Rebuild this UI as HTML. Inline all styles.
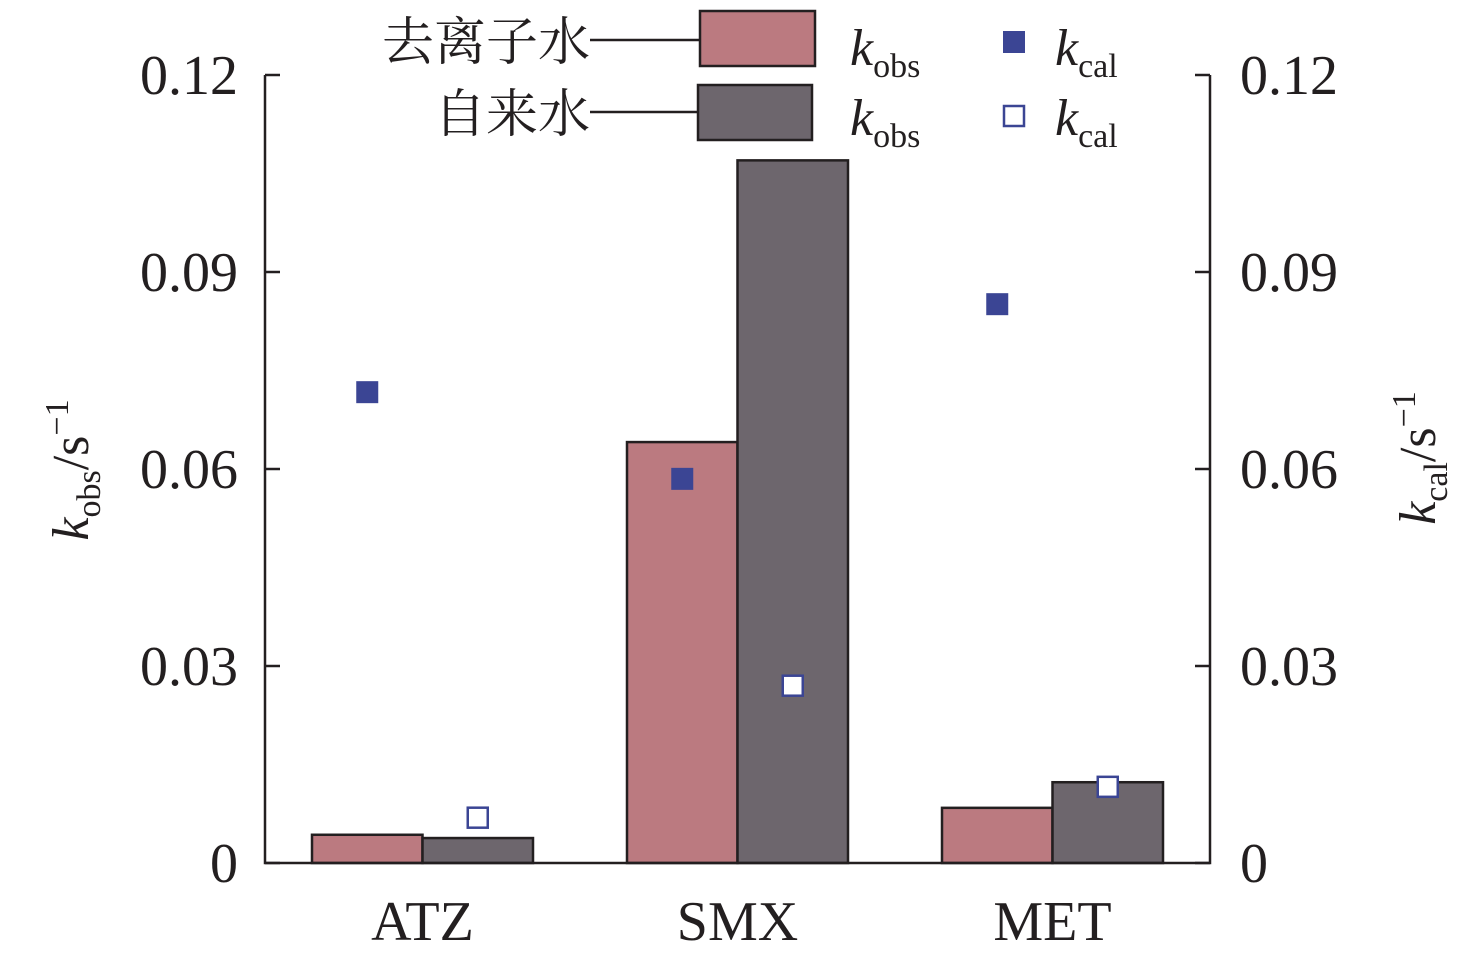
<!DOCTYPE html>
<html><head><meta charset="utf-8"><style>
body{margin:0;background:#fff}
svg text{font-family:"Liberation Serif","Noto Serif CJK SC",serif;fill:#231f20}
</style></head><body>
<svg id="c" width="1471" height="961" xmlns="http://www.w3.org/2000/svg">
<g id="g"></g>
</svg>
<script>
const categories=["ATZ","SMX","MET"];
const kobsDI=[0.0043,0.0641,0.0084];
const kobsTap=[0.0038,0.107,0.0123];
const kcalDI=[0.0717,0.0585,0.0851];
const kcalTap=[0.0069,0.027,0.0116];
const yTicks=["0","0.03","0.06","0.09","0.12"];
const yTickVals=[0,0.03,0.06,0.09,0.12];

const NS="http://www.w3.org/2000/svg";
const g=document.getElementById('g');
const X0=265,X1=1210,Y0=863,Y1=75,YMAX=0.12;
const y=v=>Y0-(v/YMAX)*(Y0-Y1);
const band=(X1-X0)/categories.length;
const cx=i=>X0+band*(i+0.5);
const BW=110.5;
function el(t,a,txt){const e=document.createElementNS(NS,t);for(const k in a)e.setAttribute(k,a[k]);if(txt!=null)e.textContent=txt;g.appendChild(e);return e;}

categories.forEach((c,i)=>{
  let e=el('rect',{x:cx(i)-BW,y:y(kobsDI[i]),width:BW,height:Y0-y(kobsDI[i]),fill:'#bb7a80',stroke:'#231f20','stroke-width':2.5});
  
  
  e=el('rect',{x:cx(i),y:y(kobsTap[i]),width:BW,height:Y0-y(kobsTap[i]),fill:'#6d666d',stroke:'#231f20','stroke-width':2.5});
  
  
  e=el('rect',{x:cx(i)-BW/2-11,y:y(kcalDI[i])-11,width:22,height:22,fill:'#3b4594'});
  
  
  e=el('rect',{x:cx(i)+BW/2-10,y:y(kcalTap[i])-10,width:20,height:20,fill:'#fff',stroke:'#3b4594','stroke-width':2.5});
  
  
  e=el('text',{x:cx(i),y:940,'font-size':56,'text-anchor':'middle'},c);
  
  
});
// axes
let a=el('path',{d:`M${X0},${Y1}V${Y0}H${X1}V${Y1}`,fill:'none',stroke:'#231f20','stroke-width':2.5});


yTickVals.forEach((v,i)=>{
  el('line',{x1:X0,x2:X0+15,y1:y(v),y2:y(v),stroke:'#231f20','stroke-width':2.5});
  el('line',{x1:X1,x2:X1-15,y1:y(v),y2:y(v),stroke:'#231f20','stroke-width':2.5});
  let t=el('text',{x:238,y:y(v)+19,'font-size':56,'text-anchor':'end'},yTicks[i]);
  
  
  t=el('text',{x:1240,y:y(v)+19,'font-size':56},yTicks[i]);
  
  
});
</script>
<svg width="1471" height="961" style="position:absolute;left:0;top:0" xmlns="http://www.w3.org/2000/svg">
<text transform="translate(88,470) rotate(-90)" font-size="52" text-anchor="middle"><tspan font-style="italic">k</tspan><tspan font-size="34" dy="12">obs</tspan><tspan dy="-12">/s</tspan><tspan font-size="34" dy="-20">−1</tspan></text>
<text transform="translate(1435,458) rotate(-90)" font-size="52" text-anchor="middle"><tspan font-style="italic">k</tspan><tspan font-size="34" dy="12">cal</tspan><tspan dy="-12">/s</tspan><tspan font-size="34" dy="-20">−1</tspan></text>
<g>
<text x="590" y="60" font-size="52" text-anchor="end">去离子水</text>
<line x1="590" y1="40" x2="700" y2="40" stroke="#231f20" stroke-width="2.5"/>
<rect x="700" y="11" width="115" height="55" fill="#bb7a80" stroke="#231f20" stroke-width="2.5"/>
<text x="590" y="132" font-size="52" text-anchor="end">自来水</text>
<line x1="590" y1="112" x2="698" y2="112" stroke="#231f20" stroke-width="2.5"/>
<rect x="698" y="85" width="114" height="55" fill="#6d666d" stroke="#231f20" stroke-width="2.5"/>
<text x="850" y="65" font-size="52"><tspan font-style="italic">k</tspan><tspan font-size="34" dy="12">obs</tspan></text>
<text x="850" y="135" font-size="52"><tspan font-style="italic">k</tspan><tspan font-size="34" dy="12">obs</tspan></text>
<rect x="1003" y="31" width="22" height="22" fill="#3b4594"/>
<rect x="1004" y="106" width="20" height="20" fill="#fff" stroke="#3b4594" stroke-width="2.5"/>
<text x="1055" y="65" font-size="52"><tspan font-style="italic">k</tspan><tspan font-size="34" dy="12">cal</tspan></text>
<text x="1055" y="135" font-size="52"><tspan font-style="italic">k</tspan><tspan font-size="34" dy="12">cal</tspan></text>
</g>
</svg>
</body></html>
